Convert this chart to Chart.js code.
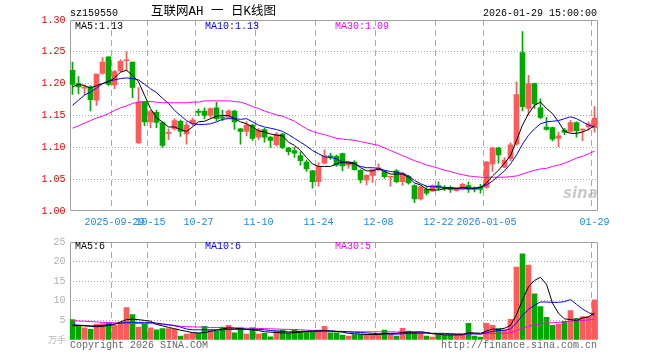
<!DOCTYPE html>
<html><head><meta charset="utf-8">
<script src="https://cdn.jsdelivr.net/npm/chart.js@4/dist/chart.umd.min.js"></script>
<style>
body{margin:0;background:#fff;width:660px;height:360px;overflow:hidden;position:relative;font-family:"Liberation Mono","DejaVu Sans Mono",monospace;}
.t{position:absolute;font-size:10px;line-height:10px;white-space:pre;}
canvas{position:absolute;left:0;}
</style></head><body>
<canvas id="pc" width="660" height="232" style="top:0"></canvas>
<canvas id="vc" width="660" height="128" style="top:232px"></canvas>
<div class="t" style="left:70px;top:9px;color:#000">sz159550</div>
<div class="t" style="left:151px;top:6px;font-size:12.5px;line-height:13px;font-family:'Liberation Mono','Noto Sans CJK SC';color:#000">互联网AH 一 日K线图</div>
<div class="t" style="left:483px;top:9px;color:#000">2026-01-29 15:00:00</div>
<div class="t" style="left:75px;top:22px;color:#000">MA5:1.13</div>
<div class="t" style="left:205px;top:22px;color:#0000ff">MA10:1.13</div>
<div class="t" style="left:335px;top:22px;color:#ff00ff">MA30:1.09</div>
<div class="t" style="left:75px;top:242px;color:#000">MA5:6</div>
<div class="t" style="left:205px;top:242px;color:#0000ff">MA10:6</div>
<div class="t" style="left:335px;top:242px;color:#ff00ff">MA30:5</div>
<div class="t" style="left:48px;top:335px;color:#bbb;font-family:'Noto Sans CJK SC';font-size:9px">万手</div>
<div class="t" style="left:70px;top:341px;color:#666">Copyright 2026 SINA.COM</div>
<div class="t" style="left:441px;top:341px;color:#666">http://finance.sina.com.cn</div>
<div class="t" style="left:563px;top:186px;color:rgba(160,160,160,0.55);font-family:'DejaVu Sans';font-weight:bold;font-style:italic;font-size:15px;line-height:15px">sina</div>
<script>
const dates = ["2025-09-18","2025-09-19","2025-09-22","2025-09-23","2025-09-24","2025-09-25","2025-09-26","2025-09-29","2025-09-30","2025-10-09",
"2025-10-10","2025-10-13","2025-10-14","2025-10-15","2025-10-16","2025-10-17","2025-10-20","2025-10-21","2025-10-22","2025-10-23",
"2025-10-24","2025-10-27","2025-10-28","2025-10-29","2025-10-30","2025-10-31","2025-11-03","2025-11-04","2025-11-05","2025-11-06",
"2025-11-07","2025-11-10","2025-11-11","2025-11-12","2025-11-13","2025-11-14","2025-11-17","2025-11-18","2025-11-19","2025-11-20",
"2025-11-21","2025-11-24","2025-11-25","2025-11-26","2025-11-27","2025-11-28","2025-12-01","2025-12-02","2025-12-03","2025-12-04",
"2025-12-05","2025-12-08","2025-12-09","2025-12-10","2025-12-11","2025-12-12","2025-12-15","2025-12-16","2025-12-17","2025-12-18",
"2025-12-19","2025-12-22","2025-12-23","2025-12-24","2025-12-25","2025-12-26","2025-12-29","2025-12-30","2025-12-31","2026-01-05",
"2026-01-06","2026-01-07","2026-01-08","2026-01-09","2026-01-12","2026-01-13","2026-01-14","2026-01-15","2026-01-16","2026-01-19",
"2026-01-20","2026-01-21","2026-01-22","2026-01-23","2026-01-26","2026-01-27","2026-01-28","2026-01-29"];
const tickDates = ["2025-09-29","2025-10-15","2025-10-27","2025-11-10","2025-11-24","2025-12-08","2025-12-22","2026-01-05","2026-01-29"];
const tickText  = ["2025-09-29","10-15","10-27","11-10","11-24","12-08","12-22","2026-01-05","01-29"];

const openP  = [1.221,1.200,1.193,1.195,1.174,1.216,1.242,1.198,1.220,1.236,1.234,1.107,1.171,1.140,1.155,1.139,1.122,1.129,1.141,1.121,1.137,1.156,1.157,1.150,1.162,1.147,1.147,1.157,1.129,1.125,1.135,1.116,1.128,1.116,1.104,1.121,1.099,1.095,1.087,1.077,1.063,1.046,1.075,1.086,1.086,1.090,1.072,1.077,1.064,1.049,1.056,1.065,1.062,1.053,1.063,1.046,1.054,1.040,1.019,1.034,1.031,1.040,1.037,1.036,1.032,1.034,1.040,1.036,1.038,1.037,1.074,1.099,1.069,1.082,1.105,1.249,1.161,1.200,1.162,1.132,1.131,1.114,1.127,1.125,1.139,1.127,1.132,1.131];
const highP  = [1.234,1.211,1.198,1.197,1.215,1.241,1.242,1.221,1.238,1.250,1.234,1.194,1.172,1.158,1.158,1.140,1.129,1.145,1.143,1.140,1.146,1.160,1.162,1.162,1.171,1.158,1.159,1.158,1.130,1.140,1.136,1.130,1.130,1.117,1.123,1.122,1.100,1.100,1.093,1.080,1.064,1.076,1.096,1.091,1.088,1.091,1.078,1.079,1.065,1.057,1.066,1.074,1.063,1.055,1.065,1.061,1.056,1.041,1.040,1.039,1.041,1.046,1.040,1.039,1.036,1.044,1.046,1.038,1.042,1.078,1.100,1.100,1.084,1.107,1.203,1.282,1.213,1.201,1.176,1.147,1.132,1.124,1.130,1.142,1.140,1.129,1.140,1.164];
const lowP   = [1.183,1.184,1.182,1.157,1.166,1.215,1.197,1.192,1.218,1.220,1.178,1.106,1.134,1.131,1.131,1.100,1.112,1.127,1.117,1.105,1.134,1.150,1.145,1.146,1.142,1.142,1.145,1.128,1.105,1.118,1.111,1.112,1.108,1.100,1.102,1.098,1.088,1.084,1.072,1.062,1.036,1.039,1.074,1.081,1.070,1.063,1.067,1.064,1.044,1.041,1.045,1.063,1.051,1.039,1.044,1.040,1.042,1.013,1.017,1.025,1.031,1.033,1.032,1.029,1.031,1.033,1.029,1.030,1.028,1.036,1.062,1.075,1.068,1.079,1.103,1.157,1.151,1.161,1.145,1.127,1.110,1.101,1.120,1.124,1.116,1.110,1.127,1.124];
const closeP = [1.199,1.195,1.194,1.175,1.215,1.234,1.199,1.219,1.235,1.237,1.194,1.171,1.140,1.156,1.139,1.103,1.123,1.142,1.125,1.135,1.143,1.155,1.150,1.161,1.145,1.146,1.157,1.140,1.125,1.135,1.114,1.127,1.116,1.111,1.121,1.100,1.093,1.091,1.079,1.066,1.046,1.070,1.087,1.085,1.072,1.071,1.077,1.065,1.049,1.056,1.065,1.068,1.054,1.054,1.046,1.059,1.044,1.019,1.038,1.028,1.040,1.036,1.035,1.034,1.035,1.042,1.034,1.034,1.034,1.077,1.099,1.088,1.080,1.104,1.183,1.164,1.200,1.168,1.147,1.128,1.113,1.118,1.124,1.139,1.126,1.128,1.137,1.146];
const ma5P   = [1.195,1.199,1.197,1.193,1.197,1.200,1.203,1.209,1.218,1.221,1.213,1.203,1.182,1.161,1.146,1.140,1.132,1.132,1.128,1.125,1.132,1.140,1.141,1.145,1.149,1.150,1.150,1.145,1.140,1.137,1.132,1.126,1.124,1.121,1.119,1.118,1.108,1.103,1.095,1.084,1.074,1.070,1.070,1.070,1.074,1.077,1.077,1.075,1.068,1.063,1.063,1.066,1.062,1.058,1.058,1.058,1.053,1.044,1.041,1.034,1.033,1.033,1.035,1.035,1.035,1.037,1.036,1.036,1.037,1.044,1.055,1.064,1.075,1.087,1.111,1.135,1.153,1.166,1.171,1.161,1.153,1.140,1.125,1.122,1.122,1.124,1.128,1.134];
const ma10P  = [1.166,1.174,1.182,1.187,1.193,1.200,1.204,1.206,1.208,1.209,1.208,1.206,1.199,1.192,1.186,1.177,1.169,1.158,1.150,1.142,1.137,1.136,1.136,1.137,1.140,1.144,1.145,1.145,1.144,1.145,1.140,1.135,1.132,1.130,1.128,1.125,1.120,1.114,1.108,1.102,1.095,1.090,1.085,1.084,1.082,1.076,1.075,1.074,1.070,1.068,1.068,1.067,1.064,1.062,1.061,1.059,1.055,1.048,1.043,1.039,1.038,1.038,1.037,1.037,1.036,1.036,1.035,1.035,1.037,1.041,1.047,1.055,1.063,1.074,1.088,1.105,1.119,1.129,1.137,1.140,1.141,1.142,1.145,1.148,1.145,1.140,1.135,1.132];
const ma30P  = [1.130,1.134,1.138,1.142,1.146,1.149,1.153,1.158,1.162,1.165,1.169,1.171,1.172,1.172,1.171,1.170,1.170,1.170,1.170,1.170,1.171,1.171,1.173,1.173,1.173,1.173,1.173,1.172,1.171,1.168,1.164,1.161,1.157,1.154,1.151,1.149,1.145,1.141,1.135,1.129,1.125,1.122,1.120,1.117,1.114,1.113,1.112,1.111,1.109,1.107,1.105,1.103,1.099,1.095,1.091,1.087,1.083,1.079,1.076,1.072,1.070,1.067,1.064,1.062,1.059,1.057,1.055,1.054,1.053,1.053,1.053,1.053,1.053,1.054,1.055,1.058,1.061,1.064,1.066,1.067,1.070,1.072,1.075,1.079,1.083,1.086,1.090,1.094];

const volume = [5.2,3.75,3.1,2.75,4.0,4.2,4.3,3.75,4.6,8.25,6.5,3.3,4.2,3.1,2.6,2.9,2.9,2.75,1.0,1.5,1.8,1.7,3.5,2.5,2.25,3.3,3.75,1.8,3.1,1.5,3.1,1.5,1.7,0.8,2.25,2.5,1.7,2.7,2.1,2.1,2.1,2.5,3.5,1.8,1.8,1.25,1.0,1.4,1.4,1.4,1.4,1.4,2.5,1.5,1.0,3.0,2.25,2.1,1.9,1.0,0.75,1.4,1.25,1.25,1.25,1.25,4.25,1.0,0.75,4.25,3.75,2.9,2.5,5.25,18.6,22.0,19.1,11.8,8.5,5.8,3.75,4.0,4.75,7.5,5.5,6.0,6.0,10.25];
const ma5V   = [3.6,3.7,3.6,3.5,3.4,3.5,3.7,4.0,4.6,5.2,5.3,5.2,5.0,4.8,4.0,3.6,3.2,2.9,2.5,2.2,1.9,1.8,1.9,2.2,2.5,2.8,3.1,3.0,2.9,2.7,2.6,2.4,2.1,2.0,1.9,1.8,1.8,1.9,2.0,2.2,2.3,2.3,2.4,2.3,2.2,2.0,1.7,1.6,1.5,1.4,1.4,1.4,1.6,1.7,1.7,1.9,2.0,2.0,2.1,1.9,1.6,1.5,1.3,1.3,1.3,1.3,1.9,1.8,1.7,2.3,2.8,2.7,3.0,3.7,6.5,10.2,13.6,15.2,16.0,14.2,9.4,6.8,5.4,5.2,5.0,5.6,5.9,6.9];
const ma10V  = [3.9,3.8,3.7,3.6,3.6,3.7,3.9,4.1,4.3,4.5,4.5,4.5,4.5,4.5,4.3,4.1,3.9,3.7,3.3,2.8,2.6,2.6,2.6,2.6,2.6,2.6,2.7,2.7,2.75,2.75,2.75,2.7,2.6,2.4,2.3,2.2,2.1,2.1,2.2,2.2,2.2,2.25,2.3,2.25,2.2,2.2,2.1,2.0,1.9,1.8,1.7,1.6,1.6,1.5,1.5,1.6,1.7,1.7,1.75,1.75,1.7,1.7,1.7,1.6,1.5,1.5,1.6,1.6,1.5,1.9,2.2,2.4,2.5,2.8,4.4,6.3,7.8,8.9,9.7,9.7,9.6,9.6,9.8,10.3,9.1,7.9,7.0,6.3];
const ma30V  = [4.9,4.85,4.8,4.7,4.6,4.5,4.45,4.4,4.3,4.25,4.2,4.2,4.2,4.2,4.1,4.0,3.8,3.6,3.5,3.4,3.35,3.3,3.25,3.2,3.2,3.15,3.1,3.1,3.05,3.0,3.0,2.95,2.9,2.85,2.8,2.75,2.7,2.65,2.6,2.5,2.45,2.4,2.35,2.3,2.2,2.15,2.1,2.1,2.1,2.1,2.1,2.1,2.1,2.1,2.05,2.05,2.0,2.0,2.0,1.9,1.6,1.6,1.55,1.55,1.5,1.5,1.55,1.55,1.55,1.6,1.7,1.7,1.7,1.8,2.4,3.0,3.5,3.8,4.2,4.3,4.4,4.5,4.6,4.8,4.9,5.0,5.1,5.3];

const UP = '#ff5a5a', DN = '#00a800';
const candleColors = closeP.map((c, i) => c >= openP[i] ? UP : DN);
const MONO = {family: "'Liberation Mono','DejaVu Sans Mono',monospace", size: 10};
const isTick = i => tickDates.indexOf(dates[i]) >= 0;
const CLEAR = 'rgba(0,0,0,0)';

const frame = {
  id: 'frame',
  beforeDatasetsDraw(chart) {
    const {ctx, chartArea: a} = chart;
    ctx.save();
    ctx.strokeStyle = '#a0a0a0';
    ctx.lineWidth = 1;
    const l = Math.round(a.left) + 0.5, r = Math.round(a.right) - 0.5;
    const t = Math.round(a.top) + 0.5, b = Math.round(a.bottom) - 0.5;
    ctx.beginPath();
    ctx.moveTo(l, b); ctx.lineTo(l, t); ctx.lineTo(r, t); ctx.lineTo(r, b);
    if (chart.canvas.id === 'pc') ctx.lineTo(l, b);
    ctx.stroke();
    ctx.restore();
  }
};

function lineDs(data, color) {
  return {type: 'line', data, borderColor: color, borderWidth: 1, pointRadius: 0, tension: 0, order: 0, fill: false};
}

const xCommon = (showLabels) => ({
  offset: true,
  grid: {offset: true, drawTicks: false, color: ctx => isTick(ctx.index) ? '#aaaaaa' : CLEAR},
  border: {display: false, dash: [6, 4]},
  ticks: {
    display: showLabels, autoSkip: false, maxRotation: 0, minRotation: 0,
    color: '#1a88e8', font: MONO, padding: 5,
    callback: (v, i) => { const k = tickDates.indexOf(dates[i]); return k >= 0 ? tickText[k] : ''; }
  },
  afterFit: s => { s.height = showLabels ? 21 : 0; }
});

new Chart(document.getElementById('pc'), {
  type: 'bar',
  data: {
    labels: dates,
    datasets: [
      lineDs(ma5P, '#000000'),
      lineDs(ma10P, '#0000ff'),
      lineDs(ma30P, '#ff00ff'),
      {data: openP.map((o, i) => [o, closeP[i]]), backgroundColor: candleColors, barThickness: 5, minBarLength: 1, grouped: false, order: 1},
      {data: lowP.map((l, i) => [l, highP[i]]), backgroundColor: candleColors, barThickness: 1, grouped: false, order: 2}
    ]
  },
  options: {
    responsive: false, animation: false, devicePixelRatio: 1,
    layout: {padding: {top: 20, right: 62.5, bottom: 0, left: 0}},
    plugins: {legend: {display: false}, tooltip: {enabled: false}},
    scales: {
      x: xCommon(true),
      y: {
        min: 1.0, max: 1.3,
        ticks: {stepSize: 0.05, color: '#ee0000', font: MONO, padding: 4, callback: v => v.toFixed(2)},
        grid: {drawTicks: false, color: ctx => (ctx.tick && ctx.tick.value > 1.001 && ctx.tick.value < 1.299) ? '#a8a8a8' : CLEAR},
        border: {display: false, dash: [1, 2]},
        afterFit: s => { s.width = 69.5; }
      }
    }
  },
  plugins: [frame]
});

new Chart(document.getElementById('vc'), {
  type: 'bar',
  data: {
    labels: dates,
    datasets: [
      lineDs(ma5V, '#000000'),
      lineDs(ma10V, '#0000ff'),
      lineDs(ma30V, '#ff00ff'),
      {data: volume, backgroundColor: candleColors, barThickness: 5, grouped: false, order: 1}
    ]
  },
  options: {
    responsive: false, animation: false, devicePixelRatio: 1,
    layout: {padding: {top: 8, right: 62.5, bottom: 20, left: 0}},
    plugins: {legend: {display: false}, tooltip: {enabled: false}},
    scales: {
      x: xCommon(false),
      y: {
        min: 0, max: 25,
        ticks: {stepSize: 5, color: '#b0b0b0', font: MONO, padding: 4, callback: v => v === 0 ? '' : String(v)},
        grid: {drawTicks: false, color: ctx => (ctx.tick && ctx.tick.value > 0 && ctx.tick.value < 25) ? '#a8a8a8' : CLEAR},
        border: {display: false, dash: [1, 2]},
        afterFit: s => { s.width = 69.5; }
      }
    }
  },
  plugins: [frame]
});
</script>
</body></html>
